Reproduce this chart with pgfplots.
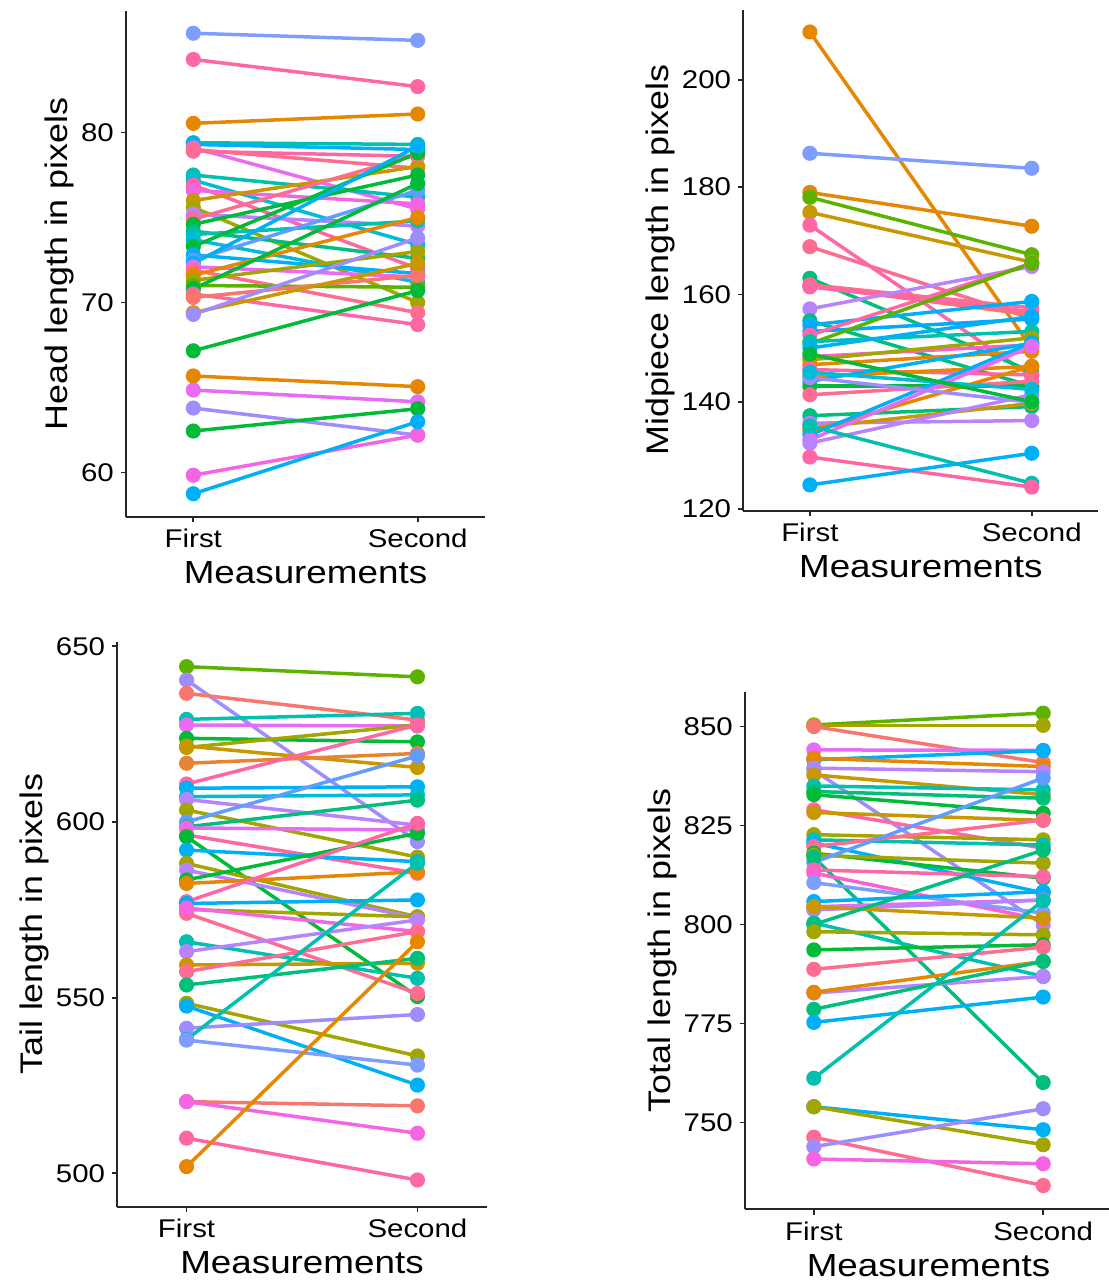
\documentclass[border=0pt]{standalone}
\usepackage{fontspec}
\setmainfont{Liberation Sans}[FakeStretch=1.15]
\usepackage{pgfplots}
\pgfplotsset{compat=1.18}
\definecolor{cor}{HTML}{F8766D}
\definecolor{ora}{HTML}{E58700}
\definecolor{org2}{HTML}{EA8331}
\definecolor{gold}{HTML}{C99800}
\definecolor{oli}{HTML}{A3A500}
\definecolor{lim}{HTML}{5BB300}
\definecolor{grn}{HTML}{00BA38}
\definecolor{tgr}{HTML}{00BF7D}
\definecolor{tea}{HTML}{00C0AF}
\definecolor{cya}{HTML}{00BCD8}
\definecolor{blu}{HTML}{00B0F6}
\definecolor{blu2}{HTML}{00A9FF}
\definecolor{bl3}{HTML}{619CFF}
\definecolor{lbl}{HTML}{7F9DFF}
\definecolor{lav}{HTML}{9F8CFF}
\definecolor{vio}{HTML}{B983FF}
\definecolor{mag}{HTML}{E76BF3}
\definecolor{mg2}{HTML}{F564E3}
\definecolor{pk3}{HTML}{FD61D1}
\definecolor{pnk}{HTML}{FF67A4}
\definecolor{pk2}{HTML}{FF6C91}
\newcommand{\seg}[3]{\addplot[color=#1] coordinates {(0,#2) (1,#3)};}
\pgfplotsset{pair/.style={
  scale only axis, axis lines=left,
  axis line style={line width=0.9bp,-,black!85},
  tick align=outside, major tick length=2.6bp,
  tick style={line width=0.9bp,black!85},
  xtick={0,1}, xticklabels={First,Second},
  xmin=-0.3, xmax=1.3,
  xlabel={Measurements},
  /pgf/number format/assume math mode=true,
  tick label style={font=\fontsize{12.8bp}{14bp}\selectfont},
  label style={font=\fontsize{16bp}{18bp}\selectfont},
  ylabel style={font=\fontsize{15.6bp}{18bp}\selectfont, yshift=-3.5bp},
  every axis plot/.append style={line width=1.75bp, mark=*, mark size=2.9bp, mark options={solid}},
  clip=false,
}}
\begin{document}
\begin{tikzpicture}
\useasboundingbox (0,0) rectangle (554.5bp,643bp);
% Head
\begin{axis}[pair, at={(63bp,384.65bp)}, anchor=south west, width=179.5bp, height=252.85bp,
  ymin=57.4, ymax=87.15, ytick={60,70,80}, ylabel={Head length in pixels}]
\seg{lbl}{85.84}{85.42}
\seg{pnk}{84.3}{82.7}
\seg{ora}{80.54}{81.09}
\seg{tea}{79.4}{79.3}
\seg{blu}{79.3}{79.0}
\seg{mag}{79.1}{75.5}
\seg{pnk}{78.9}{78.6}
\seg{pk2}{79.0}{77.9}
\seg{tea}{77.5}{76.2}
\seg{cya}{77.2}{73.4}
\seg{pnk}{76.9}{72.0}
\seg{mg2}{76.6}{75.8}
\seg{gold}{76.0}{78.0}
\seg{oli}{75.6}{70.0}
\seg{vio}{75.2}{74.5}
\seg{pk2}{74.9}{78.7}
\seg{grn}{74.6}{77.5}
\seg{tgr}{74.2}{72.6}
\seg{tea}{74.0}{74.8}
\seg{cya}{73.7}{71.2}
\seg{grn}{73.3}{78.8}
\seg{blu}{72.8}{71.7}
\seg{bl3}{72.5}{76.6}
\seg{blu}{72.3}{79.2}
\seg{mag}{72.1}{71.5}
\seg{pk2}{71.9}{69.4}
\seg{ora}{71.6}{75.0}
\seg{oli}{71.3}{73.0}
\seg{lim}{71.0}{70.9}
\seg{grn}{70.8}{77.0}
\seg{pnk}{70.5}{68.7}
\seg{cor}{70.3}{71.6}
\seg{gold}{69.4}{72.3}
\seg{lav}{69.3}{73.8}
\seg{grn}{67.16}{70.7}
\seg{ora}{65.68}{65.05}
\seg{mag}{64.85}{64.16}
\seg{lav}{63.79}{62.2}
\seg{grn}{62.44}{63.75}
\seg{mg2}{59.84}{62.2}
\seg{blu}{58.75}{62.99}
\end{axis}
% Midpiece
\begin{axis}[pair, at={(371.65bp,387.65bp)}, anchor=south west, width=177.5bp, height=250.35bp,
  ymin=119.7, ymax=213, ytick={120,140,160,180,200}, ylabel={Midpiece length in pixels}]
\seg{ora}{208.9}{150.0}
\seg{lbl}{186.3}{183.5}
\seg{ora}{179.0}{172.7}
\seg{lim}{178.1}{167.4}
\seg{gold}{175.3}{166.0}
\seg{pnk}{172.9}{144.7}
\seg{pk2}{168.9}{155.5}
\seg{tgr}{163.0}{145.6}
\seg{pk2}{161.8}{157.5}
\seg{cor}{161.6}{156.2}
\seg{pnk}{161.4}{156.8}
\seg{vio}{157.3}{165.2}
\seg{tgr}{155.1}{142.9}
\seg{blu}{154.3}{158.7}
\seg{blu2}{153.1}{155.4}
\seg{pnk}{152.4}{165.8}
\seg{lim}{150.8}{165.8}
\seg{tea}{151.2}{153.1}
\seg{blu}{150.0}{155.9}
\seg{pk3}{148.4}{150.6}
\seg{oli}{147.8}{151.9}
\seg{ora}{146.9}{149.4}
\seg{pnk}{146.0}{145.0}
\seg{ora}{144.7}{146.6}
\seg{blu}{143.8}{150.9}
\seg{grn}{142.9}{142.9}
\seg{pk2}{141.3}{143.8}
\seg{tgr}{137.4}{139.1}
\seg{vio}{136.0}{136.5}
\seg{gold}{135.1}{139.7}
\seg{ora}{134.5}{146.6}
\seg{blu}{133.8}{151.0}
\seg{mag}{132.9}{150.3}
\seg{vio}{132.3}{141.3}
\seg{tea}{135.5}{124.8}
\seg{pnk}{129.7}{124.1}
\seg{blu}{124.5}{130.4}
\seg{lav}{144.5}{139.9}
\seg{cya}{145.5}{142.3}
\seg{grn}{148.9}{140.0}
\end{axis}
% Tail
\begin{axis}[pair, at={(58.65bp,39.65bp)}, anchor=south west, width=184.7bp, height=282.5bp,
  ymin=490.5, ymax=651.3, ytick={500,550,600,650}, ylabel={Tail length in pixels}]
\seg{lim}{644.2}{641.3}
\seg{lav}{640.4}{594.4}
\seg{cor}{636.6}{629.0}
\seg{tea}{629.2}{630.9}
\seg{mag}{627.6}{627.3}
\seg{grn}{623.8}{622.8}
\seg{oli}{621.2}{627.6}
\seg{gold}{621.6}{615.5}
\seg{org2}{616.7}{619.5}
\seg{pnk}{610.8}{627.6}
\seg{blu}{609.6}{610.0}
\seg{cya}{607.2}{607.7}
\seg{vio}{606.4}{599.1}
\seg{oli}{603.4}{590.0}
\seg{bl3}{600.0}{618.8}
\seg{tgr}{598.6}{606.2}
\seg{mag}{598.3}{597.7}
\seg{pnk}{596.3}{585.4}
\seg{grn}{595.8}{550.3}
\seg{blu}{592.0}{588.7}
\seg{oli}{588.2}{573.0}
\seg{vio}{586.3}{572.6}
\seg{grn}{583.5}{596.8}
\seg{ora}{582.5}{585.8}
\seg{pnk}{577.3}{599.6}
\seg{blu}{576.8}{577.8}
\seg{oli}{575.1}{573.0}
\seg{pk2}{574.0}{551.2}
\seg{mg2}{575.5}{568.8}
\seg{tea}{565.9}{555.5}
\seg{vio}{563.1}{572.1}
\seg{gold}{559.3}{559.8}
\seg{pk2}{557.4}{568.8}
\seg{tgr}{553.6}{561.2}
\seg{oli}{548.4}{533.4}
\seg{blu}{547.6}{525.1}
\seg{lav}{541.3}{545.2}
\seg{tea}{538.1}{588.3}
\seg{lbl}{537.9}{530.8}
\seg{cor}{520.4}{519.2}
\seg{mg2}{520.4}{511.4}
\seg{pnk}{510.0}{498.1}
\seg{ora}{501.9}{565.9}
\end{axis}
% Total
\begin{axis}[pair, at={(372.5bp,38.35bp)}, anchor=south west, width=183.5bp, height=258.8bp,
  ymin=728.1, ymax=858.8, ytick={750,775,800,825,850}, ylabel={Total length in pixels}]
\seg{lim}{850.4}{853.4}
\seg{oli}{850.3}{850.3}
\seg{cor}{850.0}{840.9}
\seg{mag}{844.1}{844.0}
\seg{blu}{841.6}{843.9}
\seg{ora}{842.0}{839.9}
\seg{vio}{839.5}{838.6}
\seg{lav}{839.0}{799.9}
\seg{gold}{837.8}{832.8}
\seg{tea}{835.0}{834.0}
\seg{tgr}{833.6}{831.9}
\seg{grn}{832.8}{828.1}
\seg{pnk}{829.0}{819.3}
\seg{gold}{828.3}{826.3}
\seg{oli}{822.7}{821.4}
\seg{tea}{821.4}{820.1}
\seg{blu}{820.6}{808.0}
\seg{pk2}{819.7}{826.4}
\seg{grn}{818.0}{811.7}
\seg{oli}{817.5}{815.5}
\seg{bl3}{815.7}{837.0}
\seg{tgr}{817.0}{760.1}
\seg{pnk}{813.8}{812.1}
\seg{pk3}{813.0}{801.2}
\seg{lbl}{810.6}{802.9}
\seg{blu}{805.8}{808.3}
\seg{mag}{804.5}{806.2}
\seg{vio}{803.7}{806.2}
\seg{gold}{804.5}{801.6}
\seg{tea}{800.4}{786.9}
\seg{tgr}{800.0}{818.8}
\seg{oli}{798.2}{797.4}
\seg{grn}{793.6}{794.9}
\seg{pk2}{788.7}{794.3}
\seg{vio}{782.7}{786.9}
\seg{ora}{782.9}{790.7}
\seg{tgr}{778.6}{790.7}
\seg{blu}{775.3}{781.7}
\seg{tea}{761.2}{806.0}
\seg{blu}{754.0}{748.2}
\seg{oli}{754.0}{744.4}
\seg{pk2}{746.3}{734.1}
\seg{lav}{743.9}{753.5}
\seg{mg2}{740.8}{739.6}
\end{axis}
\end{tikzpicture}
\end{document}
